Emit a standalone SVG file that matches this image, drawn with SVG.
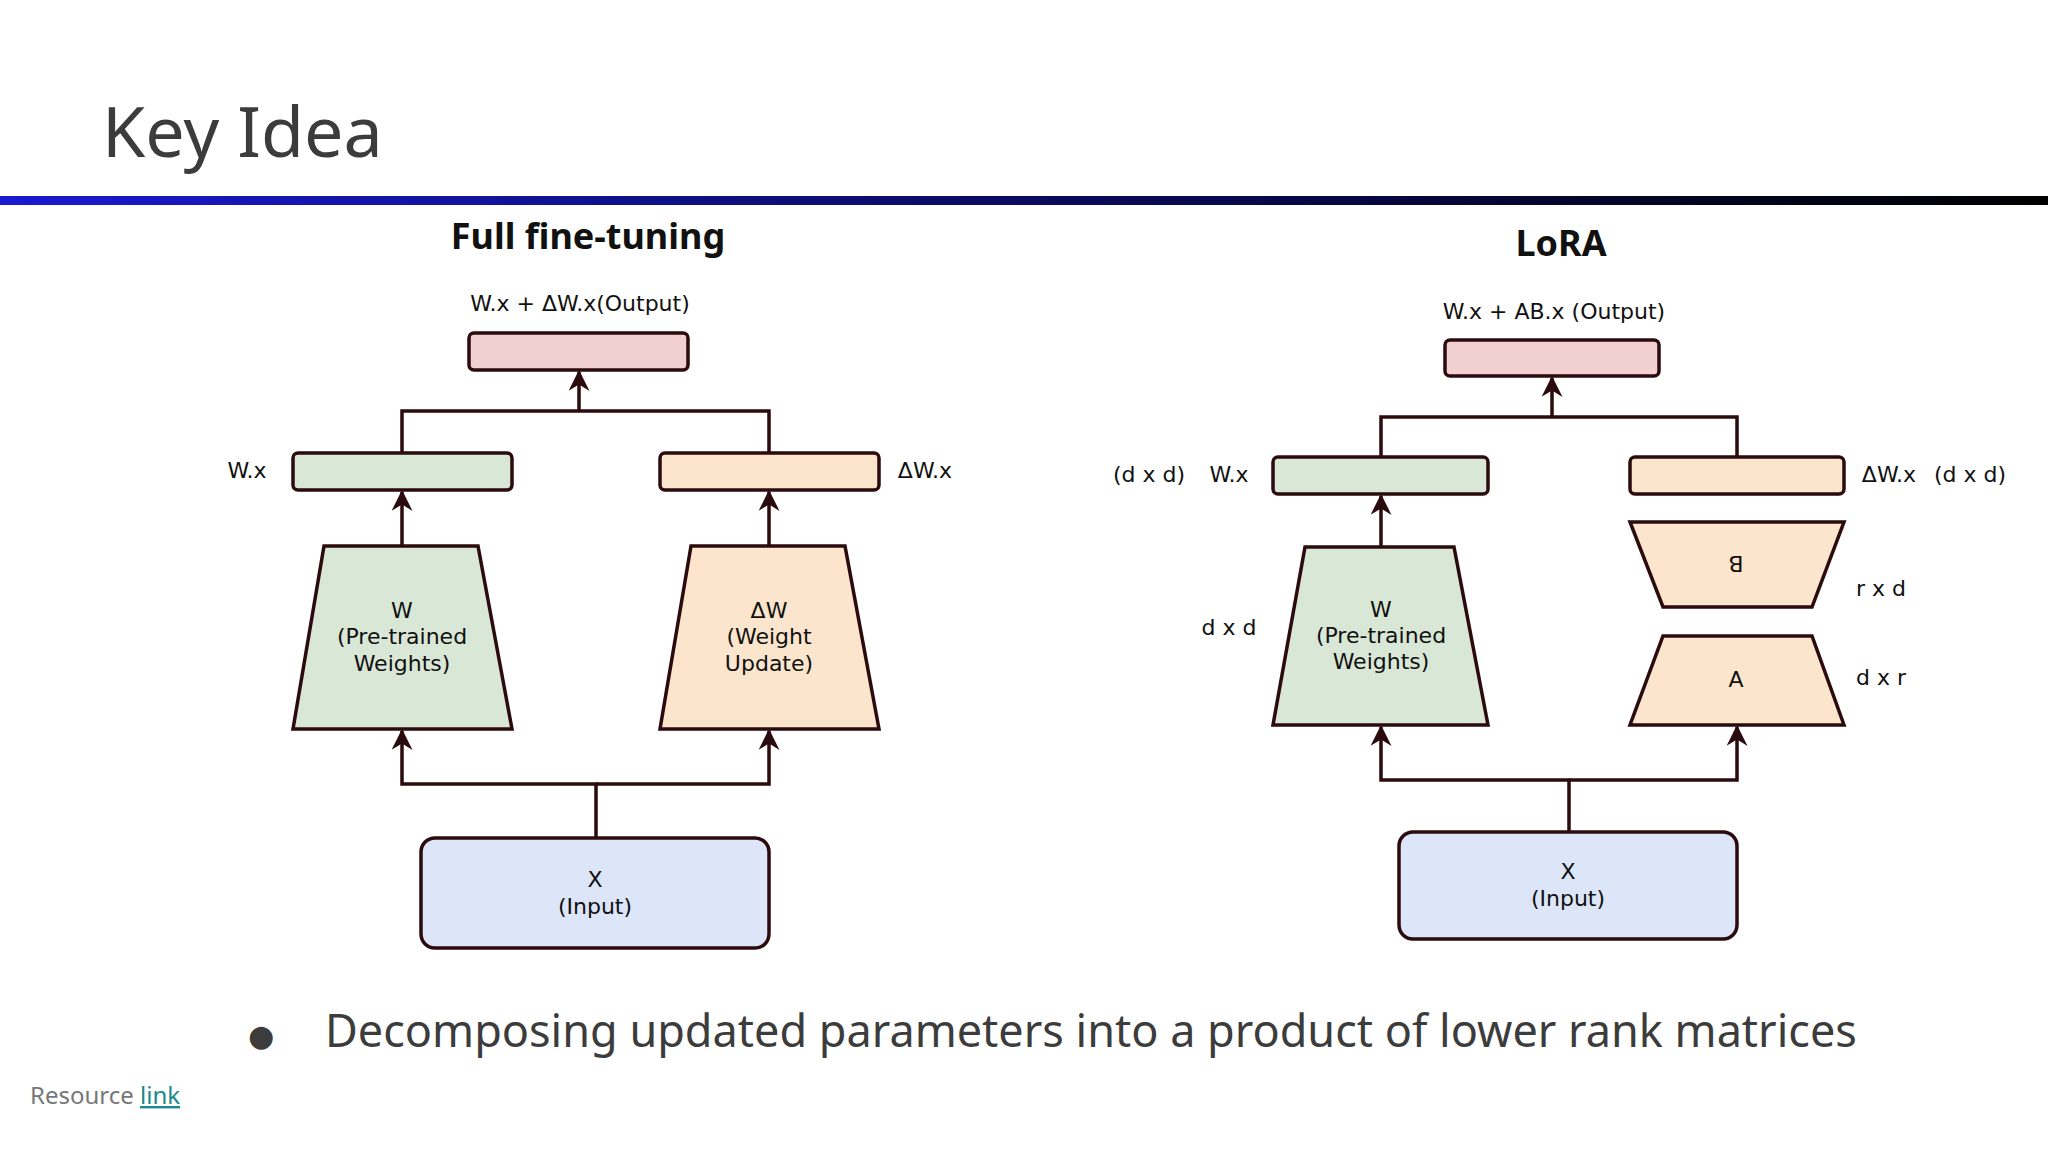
<svg xmlns="http://www.w3.org/2000/svg" width="2048" height="1152" viewBox="0 0 2048 1152">
<defs>
<linearGradient id="bar" x1="0" x2="1" y1="0" y2="0"><stop offset="0" stop-color="#1a1ad0"/><stop offset="0.5" stop-color="#0a0a60"/><stop offset="1" stop-color="#000"/></linearGradient>
<marker id="ah" viewBox="0 0 10 10" refX="9" refY="5" markerWidth="6" markerHeight="6" markerUnits="strokeWidth" orient="auto"><path d="M0,0 L10,5 L0,10 L3,5 Z" fill="#2b0b0e"/></marker>
<style>
.s{stroke:#2b0b0e;stroke-width:3.5;}
.pk{fill:#f2d0d1}.gr{fill:#d9e7d6}.pe{fill:#fbe5cc}.bl{fill:#dce6f8}
.c{fill:none;stroke:#2b0b0e;stroke-width:3.5}
.t{font-family:"DejaVu Sans",sans-serif;font-size:22px;fill:#111;text-anchor:middle}
.h{font-family:"Noto Sans","Open Sans",sans-serif;font-weight:bold;font-size:36px;fill:#111;text-anchor:middle}
</style>
</defs>
<rect width="2048" height="1152" fill="#fff"/>
<text x="102" y="157" font-family="'Noto Sans','Open Sans',sans-serif" font-size="70" fill="#3c3c3c">Key Idea</text>
<rect x="0" y="196" width="2048" height="9" fill="url(#bar)"/>
<text class="h" x="588" y="249">Full fine-tuning</text>
<text class="h" x="1561" y="256">LoRA</text>
<g id="connectors">
<path class="c" d="M402,546 V492" marker-end="url(#ah)"/>
<path class="c" d="M769,546 V492" marker-end="url(#ah)"/>
<path class="c" d="M402,453 V411 H769 V453 M579,411 V372" marker-end="url(#ah)"/>
<path class="c" d="M596,838 V784 H402 V731" marker-end="url(#ah)"/>
<path class="c" d="M596,784 H769 V731" marker-end="url(#ah)"/>
<path class="c" d="M1381,547 V496" marker-end="url(#ah)"/>
<path class="c" d="M1381,457 V417 H1737 V457 M1552,417 V378" marker-end="url(#ah)"/>
<path class="c" d="M1569,832 V780 H1381 V727" marker-end="url(#ah)"/>
<path class="c" d="M1569,780 H1737 V727" marker-end="url(#ah)"/>
</g>
<g id="ft-output"><rect class="s pk" x="469" y="333" width="219" height="37" rx="5"/><text class="t" x="580" y="311">W.x + ΔW.x(Output)</text></g>
<g id="ft-wx"><rect class="s gr" x="293" y="453" width="219" height="37" rx="5"/><text class="t" x="247" y="478">W.x</text></g>
<g id="ft-dwx"><rect class="s pe" x="660" y="453" width="219" height="37" rx="5"/><text class="t" x="925" y="478">ΔW.x</text></g>
<g id="ft-w"><path class="s gr" d="M324,546 H478 L512,729 H293 Z"/><text class="t" x="402" y="618">W</text><text class="t" x="402" y="644">(Pre-trained</text><text class="t" x="402" y="671">Weights)</text></g>
<g id="ft-dw"><path class="s pe" d="M691,546 H845 L879,729 H660 Z"/><text class="t" x="769" y="618">ΔW</text><text class="t" x="769" y="644">(Weight</text><text class="t" x="769" y="671">Update)</text></g>
<g id="ft-input"><rect class="s bl" x="421" y="838" width="348" height="110" rx="14"/><text class="t" x="595" y="887">X</text><text class="t" x="595" y="914">(Input)</text></g>
<g id="lr-output"><rect class="s pk" x="1445" y="340" width="214" height="36" rx="5"/><text class="t" x="1554" y="319">W.x + AB.x (Output)</text></g>
<g id="lr-wx"><rect class="s gr" x="1273" y="457" width="215" height="37" rx="5"/><text class="t" x="1149" y="482">(d x d)</text><text class="t" x="1229" y="482">W.x</text></g>
<g id="lr-dwx"><rect class="s pe" x="1630" y="457" width="214" height="37" rx="5"/><text class="t" x="1889" y="482">ΔW.x</text><text class="t" x="1970" y="482">(d x d)</text></g>
<g id="lr-w"><path class="s gr" d="M1305,547 H1454 L1488,725 H1273 Z"/><text class="t" x="1381" y="617">W</text><text class="t" x="1381" y="643">(Pre-trained</text><text class="t" x="1381" y="669">Weights)</text><text class="t" x="1229" y="635">d x d</text></g>
<g id="lr-b"><path class="s pe" d="M1630,522 H1844 L1812,607 H1663 Z"/><text class="t" transform="rotate(180 1736 564)" x="1736" y="572">B</text><text class="t" x="1881" y="596">r x d</text></g>
<g id="lr-a"><path class="s pe" d="M1663,636 H1812 L1844,725 H1630 Z"/><text class="t" x="1736" y="687">A</text><text class="t" x="1881" y="685">d x r</text></g>
<g id="lr-input"><rect class="s bl" x="1399" y="832" width="338" height="107" rx="14"/><text class="t" x="1568" y="879">X</text><text class="t" x="1568" y="906">(Input)</text></g>
<text x="248" y="1046" font-family="'DejaVu Sans',sans-serif" font-size="30" fill="#3c3c3c">●</text>
<text x="325" y="1047" font-family="'Noto Sans','Open Sans',sans-serif" font-size="45" fill="#3c3c3c">Decomposing updated parameters into a product of lower rank matrices</text>
<text x="30" y="1104" font-family="'Noto Sans','Open Sans',sans-serif" font-size="24" fill="#777">Resource <tspan fill="#1a8a8a" text-decoration="underline">link</tspan></text>
</svg>
